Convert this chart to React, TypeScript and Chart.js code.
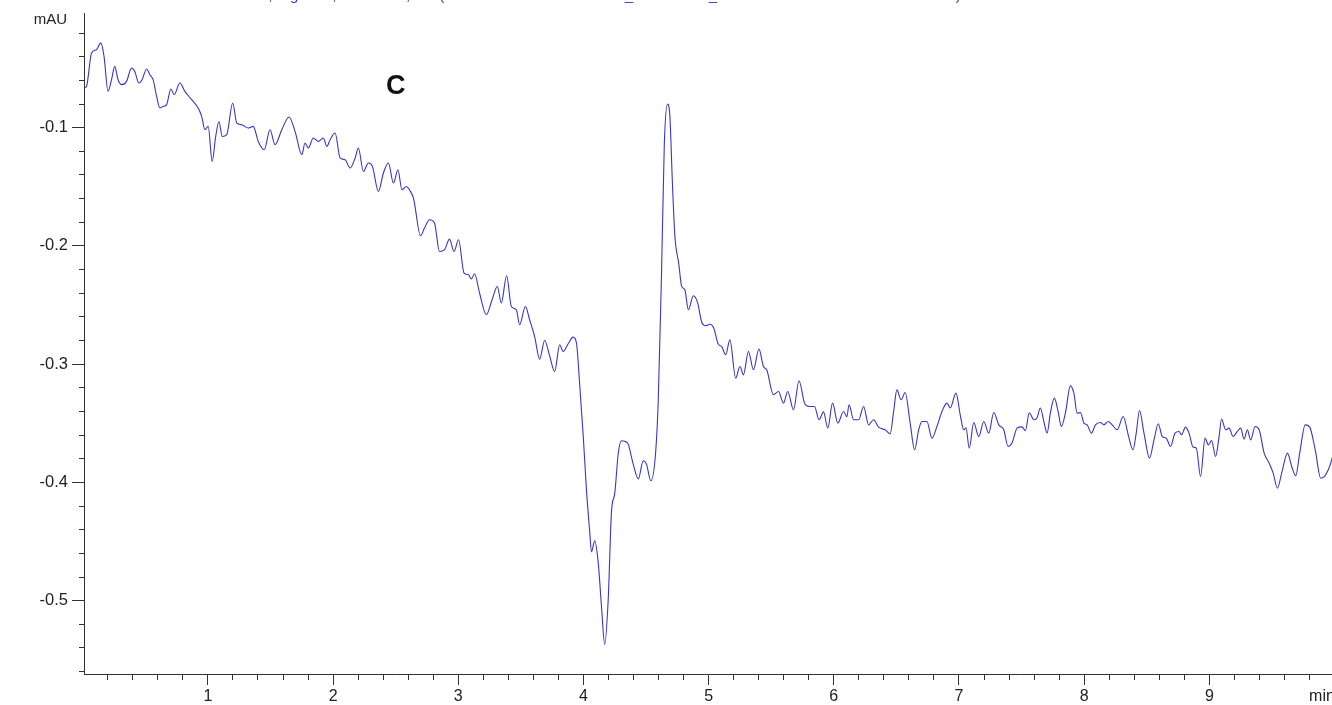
import React, { useEffect, useRef } from "react";
import { Chart, registerables } from "chart.js";

Chart.register(...registerables);

// trace, [time (min), signal (mAU)]
const baselineStart: [number, number][] = [
    [0.016, -0.0660], [0.030, -0.0651], [0.070, -0.0368], [0.110, -0.0340], [0.144, -0.0283], [0.170, -0.0397],
    [0.202, -0.0693], [0.230, -0.0594], [0.256, -0.0481], [0.282, -0.0594], [0.314, -0.0636], [0.350, -0.0608],
    [0.390, -0.0495], [0.416, -0.0524], [0.448, -0.0622], [0.474, -0.0594], [0.510, -0.0503], [0.536, -0.0552],
    [0.562, -0.0594], [0.590, -0.0735], [0.616, -0.0833], [0.642, -0.0820], [0.670, -0.0805], [0.704, -0.0673],
    [0.730, -0.0721], [0.776, -0.0622], [0.816, -0.0693], [0.870, -0.0763], [0.922, -0.0833], [0.950, -0.0904],
    [0.976, -0.1017], [1.002, -0.0989], [1.034, -0.1285], [1.062, -0.1074], [1.088, -0.0947], [1.114, -0.1074],
    [1.150, -0.1059], [1.198, -0.0791], [1.230, -0.0960], [1.270, -0.0975], [1.322, -0.1003], [1.362, -0.0989],
    [1.402, -0.1116], [1.450, -0.1186], [1.496, -0.1017], [1.536, -0.1144], [1.590, -0.1017], [1.648, -0.0909],
    [1.696, -0.1031], [1.750, -0.1228], [1.776, -0.1129], [1.802, -0.1172], [1.842, -0.1087], [1.882, -0.1116],
    [1.922, -0.1087], [1.950, -0.1158], [1.976, -0.1102], [2.016, -0.1045], [2.056, -0.1256], [2.096, -0.1271],
    [2.136, -0.1341], [2.176, -0.1256], [2.202, -0.1172], [2.242, -0.1370], [2.282, -0.1299], [2.314, -0.1327],
    [2.362, -0.1539], [2.402, -0.1383], [2.442, -0.1299], [2.482, -0.1468], [2.518, -0.1355], [2.550, -0.1525],
    [2.584, -0.1497], [2.610, -0.1525], [2.642, -0.1595],
];

const baselineDrift: [number, number][] = [
    [2.650, -0.1637], [2.698, -0.1914], [2.730, -0.1849], [2.770, -0.1778], [2.810, -0.1806], [2.850, -0.2047],
    [2.890, -0.2032], [2.930, -0.1942], [2.966, -0.2047], [3.002, -0.1948], [3.046, -0.2229], [3.082, -0.2244],
    [3.104, -0.2280], [3.130, -0.2235], [3.170, -0.2398], [3.224, -0.2582], [3.270, -0.2455], [3.312, -0.2343],
    [3.344, -0.2483], [3.386, -0.2252], [3.424, -0.2512], [3.464, -0.2540], [3.490, -0.2667], [3.536, -0.2512],
    [3.570, -0.2624], [3.610, -0.2766], [3.650, -0.2957], [3.690, -0.2800], [3.730, -0.2929], [3.770, -0.3062],
    [3.810, -0.2836], [3.838, -0.2893], [3.878, -0.2827], [3.918, -0.2771], [3.944, -0.2819],
];

const dipAndPeak: [number, number][] = [
    [3.970, -0.3174], [3.998, -0.3602], [4.024, -0.4063], [4.050, -0.4418], [4.064, -0.4587], [4.090, -0.4494],
    [4.118, -0.4678], [4.144, -0.5047], [4.170, -0.5370], [4.198, -0.4986], [4.224, -0.4247], [4.250, -0.4093],
    [4.278, -0.3755], [4.304, -0.3647], [4.328, -0.3652], [4.358, -0.3678], [4.398, -0.3847], [4.438, -0.3970],
    [4.478, -0.3816], [4.504, -0.3847], [4.538, -0.3986], [4.576, -0.3755], [4.598, -0.3294], [4.624, -0.2217],
    [4.646, -0.1140], [4.672, -0.0801], [4.690, -0.0894], [4.710, -0.1448], [4.730, -0.1909], [4.762, -0.2155],
    [4.784, -0.2340], [4.810, -0.2371], [4.838, -0.2540],
];

const baselineEnd: [number, number][] = [
    [4.878, -0.2421], [4.912, -0.2480], [4.944, -0.2641], [4.976, -0.2675], [5.010, -0.2662], [5.040, -0.2692],
    [5.078, -0.2832], [5.104, -0.2850], [5.136, -0.2920], [5.170, -0.2794], [5.216, -0.3118], [5.250, -0.3019],
    [5.278, -0.3090], [5.318, -0.2893], [5.358, -0.3047], [5.402, -0.2872], [5.438, -0.3019], [5.464, -0.3047],
    [5.518, -0.3259], [5.558, -0.3231], [5.598, -0.3329], [5.632, -0.3231], [5.678, -0.3386], [5.722, -0.3140],
    [5.766, -0.3329], [5.802, -0.3358], [5.846, -0.3358], [5.882, -0.3470], [5.918, -0.3403], [5.952, -0.3541],
    [5.990, -0.3329], [6.032, -0.3498], [6.078, -0.3400], [6.104, -0.3445], [6.122, -0.3343], [6.158, -0.3470],
    [6.198, -0.3470], [6.238, -0.3358], [6.278, -0.3513], [6.318, -0.3470], [6.358, -0.3532], [6.410, -0.3555],
    [6.450, -0.3589], [6.478, -0.3400], [6.504, -0.3217], [6.538, -0.3301], [6.570, -0.3239], [6.610, -0.3498],
    [6.646, -0.3724], [6.678, -0.3555], [6.704, -0.3485], [6.744, -0.3485], [6.784, -0.3625], [6.824, -0.3527],
    [6.864, -0.3400], [6.904, -0.3329], [6.930, -0.3371], [6.976, -0.3245], [7.010, -0.3428], [7.038, -0.3555],
    [7.056, -0.3538], [7.082, -0.3710], [7.118, -0.3493], [7.158, -0.3612], [7.198, -0.3485], [7.238, -0.3583],
    [7.278, -0.3409], [7.318, -0.3513], [7.358, -0.3555], [7.392, -0.3696], [7.424, -0.3665], [7.464, -0.3541],
    [7.504, -0.3530], [7.530, -0.3563], [7.562, -0.3411], [7.598, -0.3470], [7.624, -0.3453], [7.650, -0.3371],
    [7.678, -0.3485], [7.704, -0.3583], [7.730, -0.3414], [7.762, -0.3287], [7.792, -0.3400], [7.818, -0.3527],
    [7.850, -0.3414], [7.890, -0.3183], [7.918, -0.3245], [7.944, -0.3414], [7.970, -0.3409], [7.998, -0.3498],
    [8.024, -0.3513], [8.058, -0.3583], [8.090, -0.3513], [8.130, -0.3493], [8.158, -0.3513], [8.192, -0.3485],
    [8.224, -0.3513], [8.264, -0.3555], [8.312, -0.3442], [8.352, -0.3597], [8.390, -0.3724], [8.416, -0.3583],
    [8.442, -0.3392], [8.478, -0.3583], [8.522, -0.3794], [8.558, -0.3640], [8.592, -0.3504], [8.624, -0.3612],
    [8.656, -0.3625], [8.690, -0.3696], [8.726, -0.3583], [8.758, -0.3569], [8.778, -0.3597], [8.810, -0.3532],
    [8.838, -0.3583], [8.870, -0.3701], [8.896, -0.3710], [8.930, -0.3950], [8.966, -0.3625], [8.992, -0.3682],
    [9.018, -0.3645], [9.050, -0.3781], [9.078, -0.3612], [9.098, -0.3464], [9.130, -0.3555], [9.158, -0.3541],
    [9.190, -0.3612], [9.224, -0.3569], [9.250, -0.3541], [9.278, -0.3634], [9.304, -0.3555], [9.330, -0.3640],
    [9.366, -0.3527], [9.398, -0.3555], [9.438, -0.3752], [9.478, -0.3837], [9.510, -0.3921], [9.544, -0.4048],
    [9.578, -0.3921], [9.624, -0.3752], [9.658, -0.3865], [9.690, -0.3944], [9.722, -0.3752], [9.766, -0.3513],
    [9.802, -0.3532], [9.846, -0.3724], [9.890, -0.3964], [9.918, -0.3950], [9.944, -0.3908], [9.970, -0.3837],
    [9.998, -0.3724],
];

const xMajorTicks = [1, 2, 3, 4, 5, 6, 7, 8, 9];
const yMajorTicks = [-0.5, -0.4, -0.3, -0.2, -0.1];
const xUnit = "min";
const xUnitAt = 9.9;
const yUnit = "mAU";
const panelLetter = "C";
const signalTitle = "DAD1 A, Sig=254,4 Ref=360,100 (CHEM32\\1\\DATA\\SAMPLE_C\\SAMPLE_C 2019-06-12 14-32-10\\001-0101.D)";

const TRACE = "#3636c8";
const AXIS = "#333333";
const FONT = "'Liberation Sans', Arial, sans-serif";

const isMajor = (v: number, majors: number[]) => majors.some((m) => Math.abs(m - v) < 1e-6);

const App: React.FC = () => {
    const canvasRef = useRef<HTMLCanvasElement | null>(null);
    const chartRef = useRef<Chart | null>(null);

    useEffect(() => {
        document.body.style.margin = "0";
        if (chartRef.current) chartRef.current.destroy();
        if (!canvasRef.current) return;

        const points = [...baselineStart, ...baselineDrift, ...dipAndPeak, ...baselineEnd].map(([x, y]) => ({ x, y }));

        const xTicks: number[] = [];
        for (let i = 1; i < 50; i++) xTicks.push(Math.round(i * 2) / 10);
        xTicks.push(xUnitAt);
        xTicks.sort((a, b) => a - b);

        const yTicks: number[] = [];
        for (let i = 1; i <= 28; i++) yTicks.push(-Math.round(i * 2) / 100);
        yTicks.sort((a, b) => a - b);

        chartRef.current = new Chart(canvasRef.current, {
            type: "line",
            data: {
                datasets: [
                    {
                        data: points,
                        borderColor: TRACE,
                        borderWidth: 1.1,
                        pointRadius: 0,
                        fill: false,
                        cubicInterpolationMode: "monotone",
                    },
                ],
            },
            options: {
                animation: false,
                responsive: false,
                layout: { padding: { top: 13, right: 0, bottom: 0, left: 0 } },
                plugins: {
                    legend: { display: false },
                    tooltip: { enabled: false },
                },
                scales: {
                    x: {
                        type: "linear",
                        min: 0.01,
                        max: 9.98,
                        afterBuildTicks: (scale) => {
                            scale.ticks = xTicks.map((value) => ({ value }));
                        },
                        afterFit: (scale) => {
                            scale.height = 31;
                            scale.paddingLeft = 0;
                            scale.paddingRight = 0;
                        },
                        border: { display: true, color: AXIS, width: 1 },
                        grid: {
                            drawOnChartArea: false,
                            drawTicks: true,
                            tickLength: 11,
                            tickWidth: 1,
                            tickColor: (ctx) => (Math.abs(ctx.tick?.value - xUnitAt) < 1e-6 ? "rgba(0,0,0,0)" : AXIS),
                            tickBorderDash: (ctx) => (isMajor(ctx.tick?.value, xMajorTicks) ? [] : [5, 40]),
                        },
                        ticks: {
                            autoSkip: false,
                            maxRotation: 0,
                            padding: 2,
                            color: "#222",
                            font: { family: FONT, size: 16 },
                            callback: (value) => {
                                const v = Number(value);
                                if (Math.abs(v - xUnitAt) < 1e-6) return xUnit;
                                return isMajor(v, xMajorTicks) ? String(Math.round(v)) : "";
                            },
                        },
                    },
                    y: {
                        type: "linear",
                        min: -0.562,
                        max: -0.003,
                        afterBuildTicks: (scale) => {
                            scale.ticks = yTicks.map((value) => ({ value }));
                        },
                        afterFit: (scale) => {
                            scale.width = 84;
                            scale.paddingTop = 0;
                            scale.paddingBottom = 0;
                        },
                        border: { display: true, color: AXIS, width: 1 },
                        grid: {
                            drawOnChartArea: false,
                            drawTicks: true,
                            tickLength: 12,
                            tickWidth: 1,
                            tickColor: AXIS,
                            // minor ticks: only the 5px next to the axis line
                            tickBorderDash: (ctx) => (isMajor(ctx.tick?.value, yMajorTicks) ? [] : [0, 7, 5, 100]),
                        },
                        ticks: {
                            autoSkip: false,
                            padding: 4,
                            color: "#222",
                            font: { family: FONT, size: 16.5 },
                            callback: (value) => {
                                const v = Number(value);
                                return isMajor(v, yMajorTicks) ? v.toFixed(1) : "";
                            },
                        },
                    },
                },
            },
        });

        return () => {
            if (chartRef.current) {
                chartRef.current.destroy();
                chartRef.current = null;
            }
        };
    }, []);

    return (
        <div style={{ position: "absolute", left: 0, top: 0, width: 1332, height: 705, overflow: "hidden", background: "#fff" }}>
            <canvas ref={canvasRef} width={1332} height={705} style={{ display: "block" }} />
            <div style={{ position: "absolute", left: 215, top: -13, font: `15px/1 ${FONT}`, color: "#3a3ad0", whiteSpace: "nowrap" }}>
                {signalTitle}
            </div>
            <div style={{ position: "absolute", left: 0, width: 67, top: 10, textAlign: "right", font: `15px/1.15 ${FONT}`, color: "#222" }}>
                {yUnit}
            </div>
            <div style={{ position: "absolute", left: 386, top: 72, font: `bold 27px/1 ${FONT}`, color: "#111" }}>
                {panelLetter}
            </div>
        </div>
    );
};

export default App;
